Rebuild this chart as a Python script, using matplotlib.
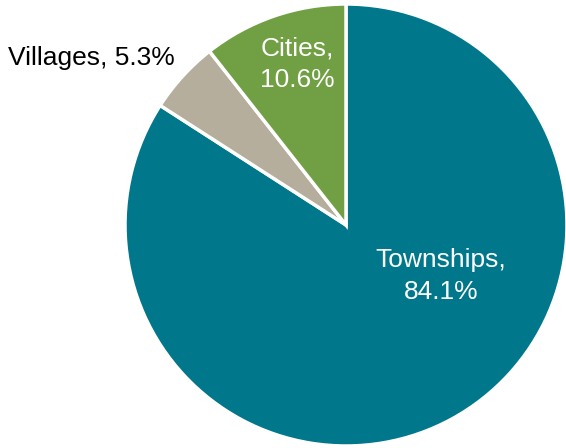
import matplotlib
matplotlib.use("Agg")
import matplotlib.pyplot as plt

categories = ["Townships", "Villages", "Cities"]
shares = [84.1, 5.3, 10.6]
colors = ["#00778B", "#B5AE9C", "#70A043"]
text_colors = ["white", "black", "white"]
# label centres in units of the pie radius
label_pos = [(0.43, -0.23), (-1.15, 0.756), (-0.222, 0.727)]
label_text = ["Townships,\n84.1%", "Villages, 5.3%", "Cities,\n10.6%"]

plt.rcParams["font.family"] = ["Liberation Sans", "DejaVu Sans"]

fig = plt.figure(figsize=(5.66, 4.48), dpi=100)
cx, cy, r = 346, 225, 221
ax = fig.add_axes([(cx - r) / 566, (448 - cy - r) / 448, 2 * r / 566, 2 * r / 448])
ax.pie(shares, colors=colors, startangle=90, counterclock=False,
       wedgeprops=dict(edgecolor="white", linewidth=2.5), radius=1)
ax.set_xlim(-1, 1)
ax.set_ylim(-1, 1)
ax.set_aspect("equal")

for (x, y), txt, c in zip(label_pos, label_text, text_colors):
    ax.text(x, y, txt, ha="center", va="center", color=c, fontsize=19,
            linespacing=1.4, clip_on=False)

fig.savefig("out.png", dpi=100)
